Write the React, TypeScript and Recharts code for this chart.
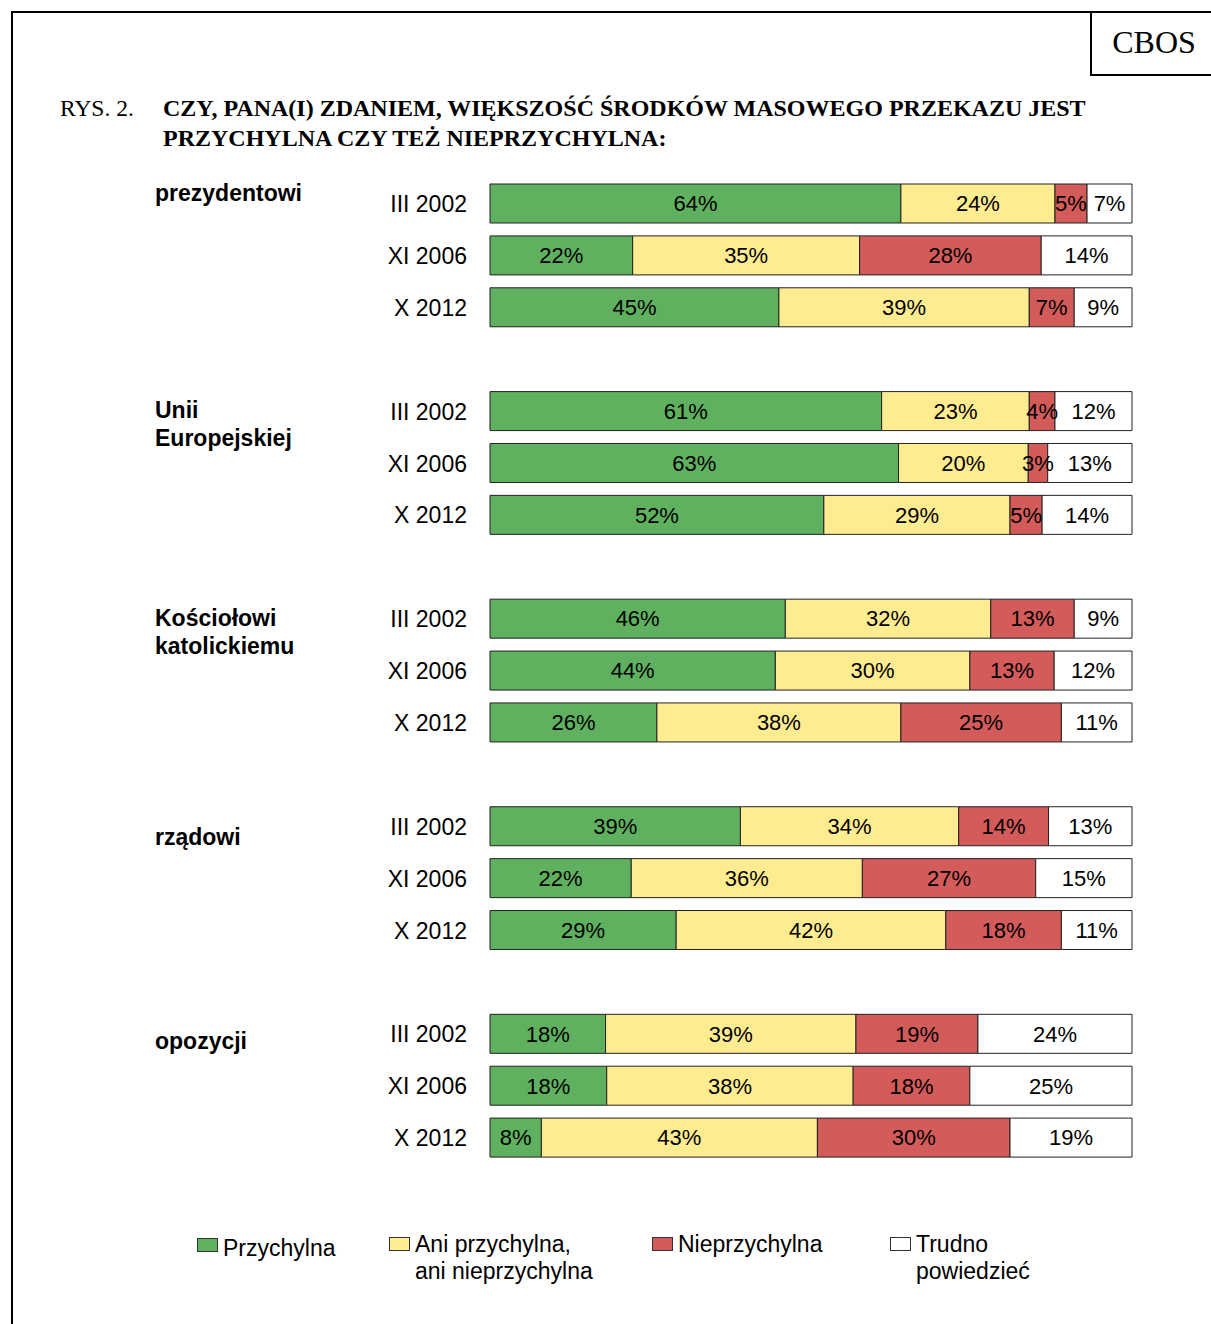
import { Bar, BarChart, LabelList, XAxis, YAxis } from "recharts";

const years = ["III 2002", "XI 2006", "X 2012"];
const groups = ["prezydentowi", "Unii Europejskiej", "Kościołowi katolickiemu", "rządowi", "opozycji"];

// one value per bar, groups in order, three surveys each
const favorable = [64, 22, 45, 61, 63, 52, 46, 44, 26, 39, 22, 29, 18, 18, 8];
const neutral = [24, 35, 39, 23, 20, 29, 32, 30, 38, 34, 36, 42, 39, 38, 43];
const unfavorable = [5, 28, 7, 4, 3, 5, 13, 13, 25, 14, 27, 18, 19, 18, 30];
const hardToSay = [7, 14, 9, 12, 13, 14, 9, 12, 11, 13, 15, 11, 24, 25, 19];

const series = [
  { key: "fav", name: "Przychylna", color: "#5fb15f" },
  { key: "neu", name: "Ani przychylna,\nani nieprzychylna", color: "#ffec91" },
  { key: "unf", name: "Nieprzychylna", color: "#d35b5a" },
  { key: "hts", name: "Trudno\npowiedzieć", color: "#ffffff" },
];

type Row = { id: string; label: string; fav?: number | null; neu?: number | null; unf?: number | null; hts?: number | null };

const rows: Row[] = [];
groups.forEach((g, gi) => {
  if (gi > 0) rows.push({ id: `gap${gi}`, label: "", fav: null, neu: null, unf: null, hts: null });
  years.forEach((y, yi) => {
    const i = gi * 3 + yi;
    rows.push({
      id: `${gi}-${yi}`,
      label: y,
      fav: favorable[i],
      neu: neutral[i],
      unf: unfavorable[i],
      hts: hardToSay[i],
    });
  });
});

const sans = "'Liberation Sans', Arial, Helvetica, sans-serif";
const serif = "'Liberation Serif', 'Times New Roman', Times, serif";

// group captions: lines + baseline of the first line
const groupCaptions = [
  { lines: ["prezydentowi"], y: 201 },
  { lines: ["Unii", "Europejskiej"], y: 418 },
  { lines: ["Kościołowi", "katolickiemu"], y: 626 },
  { lines: ["rządowi"], y: 845 },
  { lines: ["opozycji"], y: 1049 },
];

const legendX = [197, 389, 652, 890];

export default function App() {
  return (
    <div style={{ position: "absolute", left: 0, top: 0, width: 1211, height: 1324, background: "#fff" }}>
      <svg width={1211} height={1324} style={{ position: "absolute", left: 0, top: 0 }}>
        <line x1={12} y1={11} x2={12} y2={1324} stroke="#000" strokeWidth={2} />
        <line x1={11} y1={12} x2={1211} y2={12} stroke="#000" strokeWidth={2} />
        <line x1={1091} y1={11} x2={1091} y2={76} stroke="#000" strokeWidth={2} />
        <line x1={1090} y1={75} x2={1211} y2={75} stroke="#000" strokeWidth={2} />
        <text x={1154} y={53} textAnchor="middle" fontFamily={serif} fontSize={32}>CBOS</text>
        <text x={60} y={116} fontFamily={serif} fontSize={23.5}>RYS. 2.</text>
        <text x={163} y={116} fontFamily={serif} fontSize={24} fontWeight="bold">
          CZY, PANA(I) ZDANIEM, WIĘKSZOŚĆ ŚRODKÓW MASOWEGO PRZEKAZU JEST
        </text>
        <text x={163} y={146} fontFamily={serif} fontSize={24} fontWeight="bold">
          PRZYCHYLNA CZY TEŻ NIEPRZYCHYLNA:
        </text>
        {groupCaptions.map((g) =>
          g.lines.map((l, li) => (
            <text key={l} x={155} y={g.y + li * 28} fontFamily={sans} fontSize={23} fontWeight="bold">
              {l}
            </text>
          ))
        )}
      </svg>

      <div style={{ position: "absolute", left: 0, top: 0 }}>
        <BarChart
          width={1211}
          height={1324}
          data={rows}
          layout="vertical"
          stackOffset="expand"
          barSize={39}
          margin={{ top: 178, right: 79, bottom: 160, left: 390 }}
          style={{ fontFamily: sans }}
        >
          <XAxis type="number" hide domain={[0, 1]} />
          <YAxis
            type="category"
            dataKey="id"
            width={100}
            axisLine={false}
            tickLine={false}
            tickMargin={17}
            interval={0}
            tickFormatter={(v: string) => rows.find((r) => r.id === v)?.label ?? ""}
            tick={{ fill: "#000", fontSize: 23 }}
          />
          {series.map((s) => (
            <Bar
              key={s.key}
              dataKey={s.key}
              name={s.name}
              stackId="a"
              fill={s.color}
              stroke="#222"
              strokeWidth={1}
              isAnimationActive={false}
            >
              <LabelList
                dataKey={s.key}
                position="center"
                fill="#000"
                fontSize={22}
                formatter={(v: unknown) => (v == null ? "" : `${v}%`)}
              />
            </Bar>
          ))}
        </BarChart>
      </div>

      {series.map((s, i) => (
        <div
          key={s.key}
          style={{
            position: "absolute",
            left: legendX[i],
            top: i === 0 ? 1235 : 1231,
            display: "flex",
            alignItems: "flex-start",
            fontFamily: sans,
            fontSize: 23,
            lineHeight: "27px",
            color: "#000",
          }}
        >
          <span
            style={{
              display: "inline-block",
              width: 19,
              height: 12,
              marginTop: i === 0 ? 3 : 6,
              marginRight: 5,
              background: s.color,
              border: "1px solid #333",
            }}
          />
          <span style={{ whiteSpace: "pre" }}>{s.name}</span>
        </div>
      ))}
    </div>
  );
}
